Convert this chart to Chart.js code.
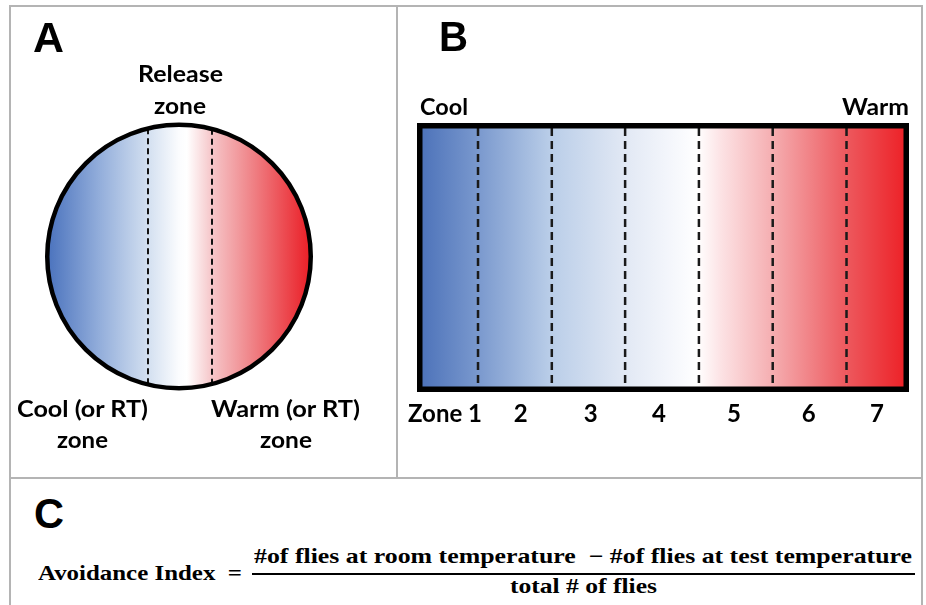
<!DOCTYPE html>
<html><head><meta charset="utf-8">
<script src="https://cdn.jsdelivr.net/npm/chart.js@4.4.0/dist/chart.umd.min.js"></script>
<style>
html,body{margin:0;padding:0;background:#fff;}
body{width:926px;height:605px;position:relative;overflow:hidden;}
.ln{position:absolute;background:#b4b4b4;}
.lbl{position:absolute;white-space:pre;line-height:normal;transform-origin:0 0;color:#000;}
.cv{position:absolute;}
</style></head><body>
<div class="ln" style="left:9px;top:5px;width:914px;height:2px"></div>
<div class="ln" style="left:9px;top:5px;width:2px;height:600px"></div>
<div class="ln" style="left:921px;top:5px;width:2px;height:600px"></div>
<div class="ln" style="left:396px;top:5px;width:2px;height:474px"></div>
<div class="ln" style="left:9px;top:477px;width:914px;height:2px"></div>
<div class="cv" style="left:11px;top:7px;width:385px;height:470px"><canvas id="chartA"></canvas></div>
<div class="cv" style="left:398px;top:7px;width:523px;height:470px"><canvas id="chartB"></canvas></div>
<div style="position:absolute;left:252px;top:573px;width:663px;height:2px;background:#000"></div>
<script>
// ---- data ----
const arenaLabels = ['Arena'];
const arenaValues = [1];
// release-zone boundaries across the round arena, as a fraction of its radius
const releaseBounds = [-0.235, 0.25];
// 7-zone linear chamber: zone labels, zone edges (% of chamber length), label positions (%)
const zoneLabels = ['Zone 1', '2', '3', '4', '5', '6', '7'];
const zoneEdges = [0, 12.4, 27.4, 42.3, 57.3, 72.3, 87.3, 100];
const zoneLabelPos = [5.7, 21.1, 35.3, 49.2, 64.4, 79.6, 93.5];
const chamberEnds = ['Cool', 'Warm'];

// ---- styles ----
const stopsA = [[0,'#4a72bd'],[0.2,'#93aedb'],[0.38,'#d2dff0'],[0.5,'#fbfcfe'],[0.53,'#ffffff'],[0.62,'#f6c8cb'],[0.76,'#f08a8e'],[1,'#ea1d25']];
const stopsB = [[0,'#4a70b8'],[0.12,'#7897cd'],[0.27,'#b9cde8'],[0.42,'#e1e8f4'],[0.52,'#f5f7fc'],[0.57,'#ffffff'],[0.62,'#fce1e3'],[0.72,'#f5afb2'],[0.87,'#ed5a5f'],[1,'#ed1e24']];

function grad(chart, stops) {
  const a = chart.chartArea;
  if (!a) return '#ccc';
  const g = chart.ctx.createLinearGradient(a.left, 0, a.right, 0);
  stops.forEach(s => g.addColorStop(s[0], s[1]));
  return g;
}

const arenaPlugin = {
  id: 'arena',
  afterDatasetsDraw(chart) {
    const arc = chart.getDatasetMeta(0).data[0];
    if (!arc) return;
    const {x, y, outerRadius: r} = arc;
    const ctx = chart.ctx;
    ctx.save();
    ctx.beginPath(); ctx.arc(x, y, r, 0, Math.PI * 2); ctx.clip();
    ctx.strokeStyle = '#111'; ctx.lineWidth = 2; ctx.setLineDash([6, 4]);
    releaseBounds.forEach(f => {
      const px = x + f * r;
      const h = Math.sqrt(r * r - (f * r) * (f * r));
      ctx.beginPath(); ctx.moveTo(px, y - h); ctx.lineTo(px, y + h); ctx.stroke();
    });
    ctx.restore();
    ctx.save();
    ctx.strokeStyle = '#000'; ctx.lineWidth = 4.5;
    ctx.beginPath(); ctx.arc(x, y, r - 0.25, 0, Math.PI * 2); ctx.stroke();
    ctx.restore();
  }
};

const chamberPlugin = {
  id: 'chamber',
  afterDatasetsDraw(chart) {
    const a = chart.chartArea, xs = chart.scales.x, ctx = chart.ctx;
    ctx.save();
    ctx.strokeStyle = '#1a1a1a'; ctx.lineWidth = 2.5; ctx.setLineDash([8, 5]);
    for (let i = 1; i < zoneEdges.length - 1; i++) {
      const px = xs.getPixelForValue(zoneEdges[i]);
      ctx.beginPath(); ctx.moveTo(px, a.top + 5); ctx.lineTo(px, a.bottom - 5); ctx.stroke();
    }
    ctx.setLineDash([]);
    ctx.strokeStyle = '#000'; ctx.lineWidth = 5.5;
    ctx.strokeRect(a.left + 2.75, a.top + 2.75, a.right - a.left - 5.5, a.bottom - a.top - 5.5);
    ctx.restore();
  }
};

function placeText(t, x0, x1, baseline, font) {
  const el = document.createElement('div');
  el.className = 'lbl';
  el.style.font = font;
  el.style.left = '0px'; el.style.top = '0px';
  el.appendChild(document.createTextNode(t));
  const m = document.createElement('i');
  m.style.cssText = 'display:inline-block;width:0;height:0;vertical-align:baseline';
  el.appendChild(m);
  document.body.appendChild(el);
  const w = el.getBoundingClientRect().width;
  const b = m.offsetTop;
  el.style.transform = 'scaleX(' + ((x1 - x0) / w) + ')';
  el.style.left = x0 + 'px';
  el.style.top = (baseline - b) + 'px';
}

function build() {
  new Chart(document.getElementById('chartA'), {
    type: 'pie',
    data: { labels: arenaLabels, datasets: [{ data: arenaValues, borderWidth: 0, hoverOffset: 0, offset: 0,
      backgroundColor: c => grad(c.chart, stopsA) }] },
    options: { responsive: true, maintainAspectRatio: false, animation: false, events: [],
      layout: { padding: { left: 36, right: 85, top: 117.5, bottom: 88.5 } },
      plugins: { legend: { display: false }, tooltip: { enabled: false } } },
    plugins: [arenaPlugin]
  });

  new Chart(document.getElementById('chartB'), {
    type: 'bar',
    data: { labels: ['Chamber'], datasets: zoneLabels.map((z, i) => ({
      label: z, data: [zoneEdges[i + 1] - zoneEdges[i]], borderWidth: 0,
      barPercentage: 1, categoryPercentage: 1,
      backgroundColor: c => grad(c.chart, stopsB) })) },
    options: { indexAxis: 'y', responsive: true, maintainAspectRatio: false, animation: false, events: [],
      layout: { padding: { left: 19, right: 12, top: 116, bottom: 45 } },
      plugins: { legend: { display: false }, tooltip: { enabled: false } },
      scales: {
        x: { type: 'linear', stacked: true, min: 0, max: 100,
          grid: { display: false, drawTicks: false }, border: { display: false },
          afterBuildTicks: s => { s.ticks = zoneLabelPos.map(v => ({ value: v })); },
          afterFit: s => { s.height = 40; },
          ticks: { autoSkip: false, maxRotation: 0, minRotation: 0, padding: 8, color: '#000',
            font: { family: 'Lato', weight: 'bold', size: 24 },
            callback: (v, i) => zoneLabels[i] } },
        y: { stacked: true, display: false }
      } },
    plugins: [chamberPlugin]
  });

  const LET = 'bold 42px "Liberation Sans"';
  const LBL = 'bold 22px Lato';
  const FML = 'bold 21px "Liberation Serif"';
  placeText('A', 33, 64, 52, LET);
  placeText('B', 439, 468, 51, LET);
  placeText('C', 34, 64, 528, LET);
  placeText('Release', 138, 223, 82, LBL);
  placeText('zone', 154, 206, 114, LBL);
  placeText('Cool (or RT)', 17, 148, 417, LBL);
  placeText('zone', 57, 108, 448, LBL);
  placeText('Warm (or RT)', 211, 360, 417, LBL);
  placeText('zone', 260, 312, 448, LBL);
  placeText(chamberEnds[0], 420, 468, 115, LBL);
  placeText(chamberEnds[1], 842, 909, 115, LBL);
  placeText('Avoidance Index\u2002=', 38, 242, 580, FML);
  placeText('#of flies at room temperature  \u2212 #of flies at test temperature', 254, 912, 563, FML);
  placeText('total # of flies', 510, 657, 593, FML);
}
if (document.fonts && document.fonts.ready) document.fonts.ready.then(build); else build();
</script>
</body></html>
